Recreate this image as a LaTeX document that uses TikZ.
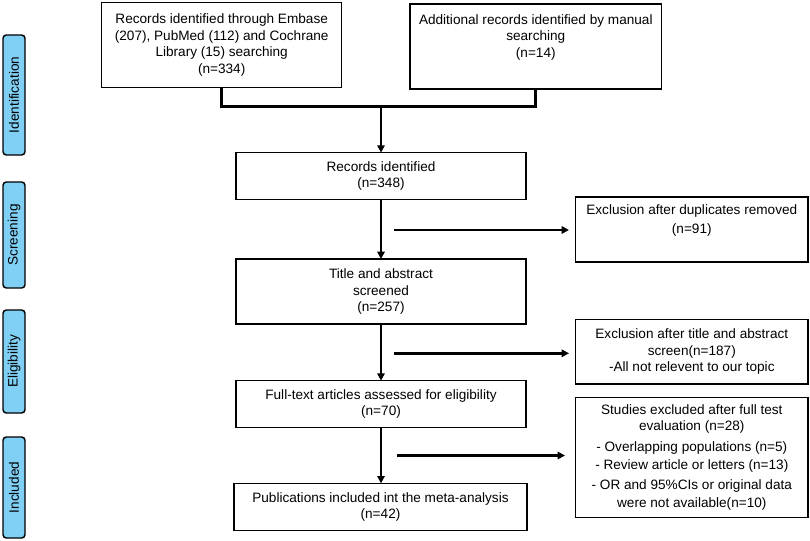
\documentclass[tikz,border=0pt]{standalone}
\usepackage{fontspec}
\setmainfont{Liberation Sans}
\usepackage{tikz}
\usetikzlibrary{arrows.meta}
\definecolor{phaseblue}{RGB}{128,207,245}

\begin{document}
\begin{tikzpicture}[x=0.75pt, y=-0.75pt,
  every node/.style={font=\fontsize{10.2}{12.4}\selectfont, outer sep=0pt},
  box/.style={draw, line width=1.1pt, align=center, inner sep=0pt},
  phase/.style={draw, line width=1.1pt, fill=phaseblue, rounded corners=2.5pt, rotate=90, minimum height=16.5pt, inner sep=0pt},
  link/.style={line width=2pt},
  flow/.style={line width=2pt, -{Triangle[length=5.5pt, width=5.5pt]}}]
\useasboundingbox (0,0) rectangle (810,540);

\node[phase, minimum width=90pt] (identification) at (14,95) {Identification};
\node[phase, minimum width=79.5pt] (screening) at (14,235) {Screening};
\node[phase, minimum width=77.25pt] (eligibility) at (14,361.5) {Eligibility};
\node[phase, minimum width=75.75pt] (included) at (14,487.5) {Included};

\node[box, minimum width=180pt, minimum height=63.5pt] (search) at (221.7,45) {Records identified through Embase\\ (207), PubMed (112) and Cochrane\\ Library (15) searching\\ (n=334)};
\node[box, minimum width=188.8pt, minimum height=63.75pt] (manual) at (535.8,46.5) {Additional records identified by manual\\ searching\\ (n=14)\\ \strut};

\node[box, minimum width=217.5pt, minimum height=35pt] (records) at (381,176) {Records identified\\ (n=348)};
\node[box, minimum width=217.5pt, minimum height=48.75pt] (screened) at (381,291.5) {Title and abstract\\ screened\\ (n=257)};
\node[box, minimum width=217.5pt, minimum height=35pt] (fulltext) at (381,404) {Full-text articles assessed for eligibility\\ (n=70)};
\node[box, minimum width=219.5pt, minimum height=35.5pt] (meta) at (380.5,507) {Publications included int the meta-analysis\\ (n=42)};

\node[box, minimum width=174.2pt, minimum height=49pt] (dupl) at (691.8,229.5) {Exclusion after duplicates removed\\[2pt] (n=91)\\ \strut};
\node[box, minimum width=174.2pt, minimum height=48.5pt] (abstr) at (691.8,351.7) {Exclusion after title and abstract\\ screen(n=187)\\ -All not relevent to our topic};
\node[box, minimum width=174.2pt, minimum height=90pt] (excl) at (691.8,457.3) {Studies excluded after full test\\ evaluation (n=28)\\[3pt] - Overlapping populations (n=5)\\[1.5pt] - Review article or letters (n=13)\\[2.5pt] - OR and 95\%CIs or original data\\[1pt] were not available(n=10)};

\coordinate (join) at (381,106.7);
\coordinate (s1) at (394,230);
\coordinate (s2) at (394,353.3);
\coordinate (s3) at (396.7,455.5);

\draw[link] (search.south) |- (join) -| (manual.south);
\draw[flow] (join) -- (records.north);
\draw[flow] (records.south) -- (screened.north);
\draw[flow] (screened.south) -- (fulltext.north);
\draw[flow] (fulltext.south) -- (fulltext.south |- meta.north);

\draw[flow, shorten >=5pt] (s1) -- (s1 -| dupl.west);
\draw[flow, shorten >=5pt] (s2) -- (s2 -| abstr.west);
\draw[flow, shorten >=8pt] (s3) -- (s3 -| excl.west);
\end{tikzpicture}
\end{document}
